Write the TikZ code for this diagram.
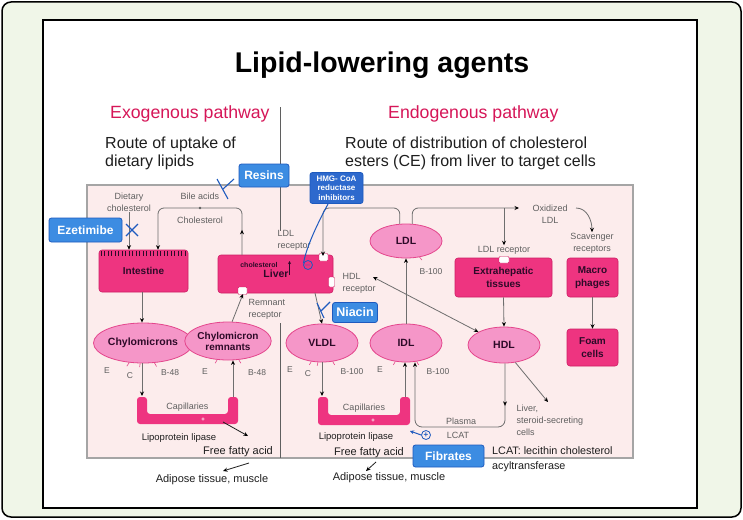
\documentclass[tikz,border=0pt]{standalone}
\usepackage{fontspec}
\setmainfont{Liberation Sans}
\usetikzlibrary{shapes.geometric,arrows.meta,decorations.markings,calc}
\definecolor{bggreen}{RGB}{240,246,232}
\definecolor{panelpink}{RGB}{252,236,236}
\definecolor{panelborder}{RGB}{165,165,165}
\definecolor{hotpink}{RGB}{238,52,128}
\definecolor{hotdark}{RGB}{205,30,100}
\definecolor{lipfill}{RGB}{245,150,200}
\definecolor{lipborder}{RGB}{228,70,140}
\definecolor{boxtext}{RGB}{45,10,40}
\definecolor{drugblue}{RGB}{60,140,226}
\definecolor{drugdark}{RGB}{30,90,190}
\definecolor{hmgblue}{RGB}{45,105,205}
\definecolor{headred}{RGB}{214,22,88}
\definecolor{labgray}{RGB}{95,95,95}
\definecolor{linegray}{RGB}{110,110,110}
\definecolor{darktext}{RGB}{30,30,30}
\tikzset{
  lab/.style={font=\fontsize{9}{12}\selectfont, text=labgray, inner sep=0.5pt, align=center},
  tiny/.style={font=\fontsize{8.5}{10}\selectfont, text=labgray, inner sep=0.5pt},
  hot/.style={draw=hotdark, fill=hotpink, line width=0.6, rounded corners=3, font=\fontsize{10}{12.5}\selectfont\bfseries, text=boxtext, align=center, inner sep=1pt},
  lip/.style={ellipse, draw=lipborder, fill=lipfill, line width=0.8, inner sep=0pt, font=\fontsize{10.5}{12}\selectfont\bfseries, text=boxtext, align=center},
  drug/.style={draw=drugdark, fill=drugblue, rounded corners=2.5, line width=0.8, text=white, font=\fontsize{12}{14}\selectfont\bfseries, inner sep=0pt},
  ln/.style={draw=linegray, line width=0.8},
  arr/.style={draw=linegray, line width=0.8, -{Stealth[length=4.5pt,width=4pt,color=black]}},
  blk/.style={font=\fontsize{11}{13}\selectfont, text=darktext, inner sep=0.5pt},
  midarr/.style={postaction={decorate}, decoration={markings, mark=at position #1 with {\arrow{Stealth[length=4.5pt,width=4pt,color=black]}}}},
  bluex/.style={draw=drugdark, line width=1.1},
  notch/.style={fill=white, draw=hotdark, line width=0.4, rounded corners=1},
}
\begin{document}
\begin{tikzpicture}[x=1pt,y=-1pt]
\useasboundingbox (0,0) rectangle (743,519);
% frames
\draw[line width=1.5, fill=bggreen, rounded corners=9] (2,2) rectangle (741,517);
\draw[line width=2.5, fill=white] (43,20) rectangle (697,508);
% headings
\node[font=\fontsize{28.5}{31}\selectfont\bfseries, anchor=base] (title) at (382,72) {Lipid-lowering agents};
\node[font=\fontsize{17.7}{20}\selectfont, text=headred, anchor=base west, inner sep=0] (exo) at (110,118) {Exogenous pathway};
\node[font=\fontsize{17.7}{20}\selectfont, text=headred, anchor=base west, inner sep=0] (endo) at (388,118) {Endogenous pathway};
\node[font=\fontsize{16}{18.5}\selectfont, text=darktext, align=left, anchor=base west, inner sep=0] (route1) at (105,166.5) {Route of uptake of\\dietary lipids};
\node[font=\fontsize{16}{18.5}\selectfont, text=darktext, align=left, anchor=base west, inner sep=0] (route2) at (345,166.5) {Route of distribution of cholesterol\\esters (CE) from liver to target cells};
% pink panel
\draw[draw=panelborder, line width=1.2, fill=panelpink] (87,185) rectangle (633,458);
% divider
\coordinate (divA) at (280,107);
\coordinate (divB) at (280,231);
\coordinate (divC) at (280,323);
\coordinate (divD) at (280,458);
\draw[draw=labgray, line width=0.9] (divA) -- (divB);
\draw[draw=labgray, line width=0.9] (divC) -- (divD);
% boxes
\node[hot, minimum width=89pt, minimum height=42pt] (intestine) at (143.5,271) {Intestine};
\foreach \x in {101,104.5,...,186} \draw[draw=boxtext, line width=0.45] (\x,250.8) -- (\x,255.5);
\node[hot, minimum width=115pt, minimum height=38pt] (liver) at (275.5,274) {};
\node[hot, minimum width=97pt, minimum height=39pt] (extra) at (503.5,277.5) {Extrahepatic\\tissues};
\node[hot, minimum width=51pt, minimum height=39pt] (macro) at (592.5,277.5) {Macro\\phages};
\node[hot, minimum width=51pt, minimum height=37pt] (foam) at (592.5,347.5) {Foam\\cells};
% notches
\draw[notch] (319,253.5) rectangle (328,261);
\draw[notch] (328.5,277) rectangle (334.5,287);
\draw[notch] (238,287) rectangle (247,294.5);
\draw[notch] (499,256.5) rectangle (509,263);
\node[font=\fontsize{7}{8}\selectfont\bfseries, text=boxtext, inner sep=0] (liverchol) at (259,265) {cholesterol};
\node[font=\fontsize{10.5}{12}\selectfont\bfseries, text=boxtext, inner sep=0] (livertxt) at (276,274) {Liver};
\coordinate (cholA) at (289.5,275);
\coordinate (cholB) at (289.5,261);
\draw[draw=boxtext, line width=0.6, -{Stealth[length=3pt,width=3pt]}] (cholA) -- (cholB);
% ellipses
\node[lip, minimum width=80pt, minimum height=40pt] (chylo) at (143,343) {Chylomicrons};
\node[lip, minimum width=78pt, minimum height=38pt, font=\fontsize{10}{11}\selectfont\bfseries] (remn) at (228,341) {Chylomicron\\remnants};
\node[lip, minimum width=72pt, minimum height=38pt] (vldl) at (322,343) {VLDL};
\node[lip, minimum width=72pt, minimum height=38pt] (idl) at (406,343) {IDL};
\node[lip, minimum width=72pt, minimum height=34pt] (ldl) at (406,241) {LDL};
\node[lip, minimum width=72pt, minimum height=36pt] (hdl) at (504,345) {HDL};
% capillaries
\fill[hotpink, rounded corners=3] (137,397) -- (137,424) -- (238,424) -- (238,397) -- (228,397) -- (228,414) -- (147,414) -- (147,397) -- cycle;
\fill[hotpink, rounded corners=3] (318,397) -- (318,425) -- (410,425) -- (410,397) -- (400,397) -- (400,415) -- (328,415) -- (328,397) -- cycle;
\node[lab] (cap1) at (187.5,407) {Capillaries};
\node[lab] (cap2) at (364,408) {Capillaries};
\node[font=\fontsize{6}{6}\selectfont\bfseries, text=white, inner sep=0] (plus1) at (203,419.5) {+};
\node[font=\fontsize{6}{6}\selectfont\bfseries, text=white, inner sep=0] (plus2) at (373,420.5) {+};
\coordinate (cap1L) at (142,396);
\coordinate (cap1R) at (233,397);
\coordinate (cap2L) at (323,396);
\coordinate (cap2R) at (405,397);
% small labels
\node[lab] (dietary) at (129,202) {Dietary\\cholesterol};
\node[lab] (bile) at (200,196) {Bile acids};
\node[lab] (chol) at (200,220) {Cholesterol};
\node[lab, align=left, anchor=west] (ldlrec) at (277,240) {LDL\\receptor};
\node[lab, align=left, anchor=west] (remrec) at (248,309) {Remnant\\receptor};
\node[lab, align=left, anchor=west] (hdlrec) at (342,283) {HDL\\receptor};
\node[lab] (oxid) at (550,214) {Oxidized\\LDL};
\node[lab] (ldlrec2) at (504,250) {LDL receptor};
\node[lab] (scav) at (592,243) {Scavenger\\receptors};
\node[lab] (plasma) at (461,421) {Plasma};
\node[lab] (lcat) at (458,435) {LCAT};
\node[lab, align=left, anchor=north west] (lsc) at (516,404) {Liver,\\steroid-secreting\\cells};
% apo labels
\node[tiny] (chE) at (107,371) {E};
\node[tiny] (chC) at (130,376) {C};
\node[tiny] (chB) at (170,373) {B-48};
\node[tiny] (reE) at (205,372) {E};
\node[tiny] (reB) at (257,373) {B-48};
\node[tiny] (vlE) at (290,370) {E};
\node[tiny] (vlC) at (308,374) {C};
\node[tiny] (vlB) at (352,372) {B-100};
\node[tiny] (idE) at (380,370) {E};
\node[tiny] (idB) at (438,372) {B-100};
\node[tiny] (ldB) at (431,272) {B-100};
\foreach \n/\a in {chylo/235, chylo/262, chylo/300, remn/240, remn/300, vldl/240, vldl/258, vldl/300, idl/240, idl/300, ldl/310}
  \draw[draw=lipborder, line width=0.6] (\n.\a) -- ($(\n.center)!1.18!(\n.\a)$);
% bottom texts
\node[font=\fontsize{9.5}{11}\selectfont, text=darktext, inner sep=0] (lpl1) at (179,438) {Lipoprotein lipase};
\node[font=\fontsize{9.5}{11}\selectfont, text=darktext, inner sep=0] (lpl2) at (356,437) {Lipoprotein lipase};
\node[blk] (ffa1) at (238,452) {Free fatty acid};
\node[blk] (ffa2) at (369,453) {Free fatty acid};
\node[blk] (adi1) at (212,480) {Adipose tissue, muscle};
\node[blk] (adi2) at (389,478) {Adipose tissue, muscle};
\node[font=\fontsize{10.8}{15}\selectfont, text=darktext, align=left, anchor=north west, inner sep=0] (lcatdef) at (492,446) {LCAT: lecithin cholesterol\\acyltransferase};
% drug boxes
\node[drug, minimum width=73pt, minimum height=24pt] (ezet) at (85.5,230) {Ezetimibe};
\node[drug, minimum width=50pt, minimum height=23pt] (resins) at (264,175.5) {Resins};
\node[drug, fill=hmgblue, minimum width=53pt, minimum height=31pt, align=center, font=\fontsize{8}{9.5}\selectfont\bfseries] (hmg) at (336.5,188) {HMG- CoA\\reductase\\inhibitors};
\node[drug, minimum width=45pt, minimum height=20pt, font=\fontsize{12.5}{14}\selectfont\bfseries] (niacin) at (355,312.5) {Niacin};
\node[drug, minimum width=71pt, minimum height=22pt] (fibr) at (448.5,456) {Fibrates};
% connectors exogenous
\draw[arr] (dietary.south) -- (dietary.south |- intestine.north);
\coordinate (bileS) at (242,255);
\coordinate (bileL) at (158,208);
\draw[ln, rounded corners=6, midarr=0.15, -{Stealth[length=4.5pt,width=4pt,color=black]}] (bileS) |- (bileL) -- (bileL |- intestine.north);
\fill[labgray] (200,208) circle (1.3);
\draw[arr] (intestine.south -| cap1L) -- (cap1L |- chylo.north);
\draw[arr] (cap1L |- chylo.south) -- (cap1L);
\draw[arr] (cap1R) -- (cap1R |- remn.south);
\coordinate (remIn) at (243,294);
\draw[arr] (remn.78) -- (remIn);
\coordinate (lplA1) at (223,422);
\coordinate (lplB1) at (248,436);
\draw[arr, draw=darktext] (lplA1) -- (lplB1);
\coordinate (ffaA1) at (249,463);
\coordinate (ffaB1) at (223,471);
\draw[arr, draw=darktext] (ffaA1) -- (ffaB1);
\coordinate (ffaA2) at (376,462);
\coordinate (ffaB2) at (366,471);
\draw[arr, draw=darktext] (ffaA2) -- (ffaB2);
% blue crosses
\coordinate (ex1) at (126,224); \coordinate (ex2) at (138,236);
\coordinate (ex3) at (126,236); \coordinate (ex4) at (138,224);
\draw[bluex] (ex1) -- (ex2); \draw[bluex] (ex3) -- (ex4);
\coordinate (rx1) at (217,179); \coordinate (rx2) at (228,199);
\coordinate (rx3) at (223,189); \coordinate (rx4) at (234,179);
\draw[bluex] (rx1) -- (rx2); \draw[bluex] (rx3) -- (rx4);
% endogenous
\coordinate (livOut) at (315,293);
\draw[arr] (livOut) -- (vldl.north);
\coordinate (nx1) at (317,303); \coordinate (nx2) at (324,318);
\coordinate (nx3) at (321,311); \coordinate (nx4) at (330,302);
\draw[bluex] (nx1) -- (nx2); \draw[bluex] (nx3) -- (nx4);
\coordinate (ldlCorner) at (323,208);
\coordinate (ldlNotch) at (323,256);
\draw[arr, rounded corners=6] (ldl.110) |- (ldlCorner) -- (ldlNotch);
\coordinate (oxIn) at (519,208);
\draw[arr, rounded corners=6] (ldl.70) |- (oxIn);
\draw[arr] (ldlrec2.north |- oxIn) -- (ldlrec2.north);
\coordinate (oxOut) at (576,208);
\draw[arr] (oxOut) to[out=0, in=90] (scav.north);
\draw[arr] (idl.north) -- (ldl.south);
\draw[arr] (vldl.south) -- (vldl.south |- cap2L);
\draw[arr] (cap2R) -- (idl.south -| cap2R);
\coordinate (plasR) at (505,427);
\coordinate (plasL) at (415,427);
\draw[ln, rounded corners=7, midarr=0.2, -{Stealth[length=4.5pt,width=4pt,color=black]}] (hdl.south -| plasR) -- (plasR) -- (plasL) -- (idl.south -| plasL);
\coordinate (hdlRec) at (373,277);
\draw[ln, {Stealth[length=4.5pt,width=4pt,color=black]}-{Stealth[length=4.5pt,width=4pt,color=black]}] (hdlRec) -- (hdl.153);
\draw[arr] (extra.south) -- (hdl.north);
\draw[arr] (macro.south) -- (foam.north);
\coordinate (lscIn) at (548,402);
\draw[arr] (hdl.-57) -- (lscIn);
% HMG-CoA inhibition
\node[circle, draw=drugdark, line width=0.8, inner sep=0, minimum size=9pt, font=\fontsize{8}{8}\selectfont\bfseries, text=drugdark] (minus) at (308,265) {$-$};
\draw[draw=drugdark, line width=1] (hmg.-118) .. controls (313,232) and (306,250) .. (minus.160);
% Fibrates plus
\node[circle, draw=drugdark, line width=0.8, inner sep=0, minimum size=9pt, font=\fontsize{8}{8}\selectfont\bfseries, text=drugdark] (plusc) at (426,435) {+};
\coordinate (plusTip) at (410,431);
\draw[draw=drugdark, line width=1, -{Stealth[length=4pt,width=4pt]}] (plusc.west) -- (plusTip);
\end{tikzpicture}
\end{document}
